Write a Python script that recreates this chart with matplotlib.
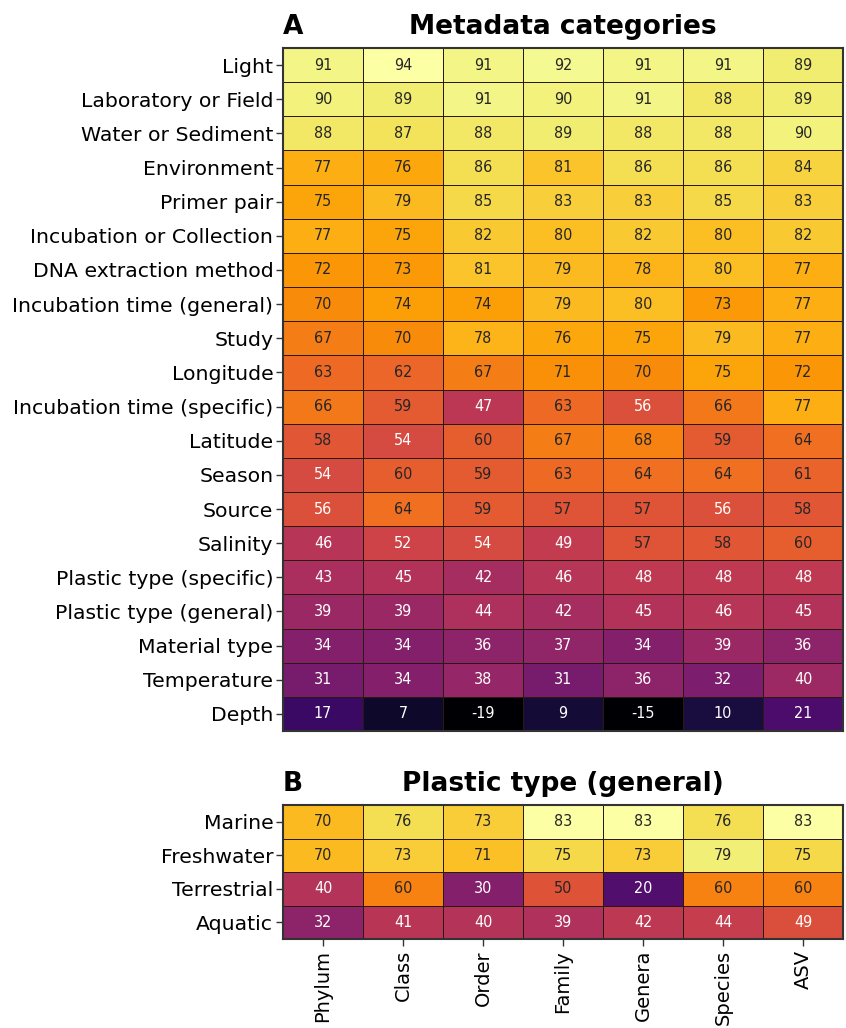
import numpy as np
import matplotlib
matplotlib.use("Agg")
import matplotlib.pyplot as plt
from matplotlib import font_manager as fm

ranks = ["Phylum", "Class", "Order", "Family", "Genera", "Species", "ASV"]

meta_labels = ["Light", "Laboratory or Field", "Water or Sediment", "Environment",
               "Primer pair", "Incubation or Collection", "DNA extraction method",
               "Incubation time (general)", "Study", "Longitude",
               "Incubation time (specific)", "Latitude", "Season", "Source",
               "Salinity", "Plastic type (specific)", "Plastic type (general)",
               "Material type", "Temperature", "Depth"]

meta_values = [
    [91, 94, 91, 92, 91, 91, 89],
    [90, 89, 91, 90, 91, 88, 89],
    [88, 87, 88, 89, 88, 88, 90],
    [77, 76, 86, 81, 86, 86, 84],
    [75, 79, 85, 83, 83, 85, 83],
    [77, 75, 82, 80, 82, 80, 82],
    [72, 73, 81, 79, 78, 80, 77],
    [70, 74, 74, 79, 80, 73, 77],
    [67, 70, 78, 76, 75, 79, 77],
    [63, 62, 67, 71, 70, 75, 72],
    [66, 59, 47, 63, 56, 66, 77],
    [58, 54, 60, 67, 68, 59, 64],
    [54, 60, 59, 63, 64, 64, 61],
    [56, 64, 59, 57, 57, 56, 58],
    [46, 52, 54, 49, 57, 58, 60],
    [43, 45, 42, 46, 48, 48, 48],
    [39, 39, 44, 42, 45, 46, 45],
    [34, 34, 36, 37, 34, 39, 36],
    [31, 34, 38, 31, 36, 32, 40],
    [17, 7, -19, 9, -15, 10, 21],
]

env_labels = ["Marine", "Freshwater", "Terrestrial", "Aquatic"]
env_values = [
    [70, 76, 73, 83, 83, 76, 83],
    [70, 73, 71, 75, 73, 79, 75],
    [40, 60, 30, 50, 20, 60, 60],
    [32, 41, 40, 39, 42, 44, 49],
]

cond_available = any(f.stretch in ("condensed", "semi-condensed") or "Condensed" in f.fname
                     for f in fm.fontManager.ttflist if "DejaVu" in f.name)
stretch = "condensed" if cond_available else "normal"

W, H = 846, 1028
fig = plt.figure(figsize=(W / 100, H / 100), dpi=100)

def px_axes(left, top, right, bottom):
    return fig.add_axes([left / W, 1 - bottom / H, (right - left) / W, (bottom - top) / H])

axA = px_axes(283, 48, 843, 731)
axB = px_axes(283, 805, 843, 939)


def draw(ax, values, rowlabels, letter, title, show_x):
    data = np.array(values, dtype=float)
    vmax = data.max()
    norm = plt.Normalize(vmin=0, vmax=vmax)
    nrow, ncol = data.shape
    ax.pcolormesh(np.arange(ncol + 1), np.arange(nrow + 1), data, cmap="inferno",
                  norm=norm, edgecolors="#2a1a10", linewidth=0.6)
    ax.set_xlim(0, ncol)
    ax.set_ylim(nrow, 0)
    for i in range(nrow):
        for j in range(ncol):
            v = data[i, j]
            col = "#262626" if norm(v) > 0.6 else "white"
            ax.text(j + 0.5, i + 0.5, f"{v:.0f}", ha="center", va="center",
                    fontsize=11.5, color=col, fontstretch=stretch)
    ax.set_yticks(np.arange(nrow) + 0.5)
    ax.set_yticklabels(rowlabels, fontsize=14.7)
    ax.set_xticks(np.arange(ncol) + 0.5)
    if show_x:
        ax.set_xticklabels(ranks, rotation=90, fontsize=14)
    else:
        ax.set_xticklabels([])
    ax.tick_params(axis="y", length=5, width=1, pad=2, color="#333333")
    ax.tick_params(axis="x", length=5 if show_x else 0, width=1, pad=3, color="#333333")
    for s in ax.spines.values():
        s.set_linewidth(1.5)
        s.set_color("#333333")
    ax.set_title(title, fontsize=19, fontweight="bold", pad=10)
    ax.set_title(letter, loc="left", fontsize=19, fontweight="bold", pad=10)


draw(axA, meta_values, meta_labels, "A", "Metadata categories", False)
draw(axB, env_values, env_labels, "B", "Plastic type (general)", True)

fig.savefig("out.png", dpi=100)
